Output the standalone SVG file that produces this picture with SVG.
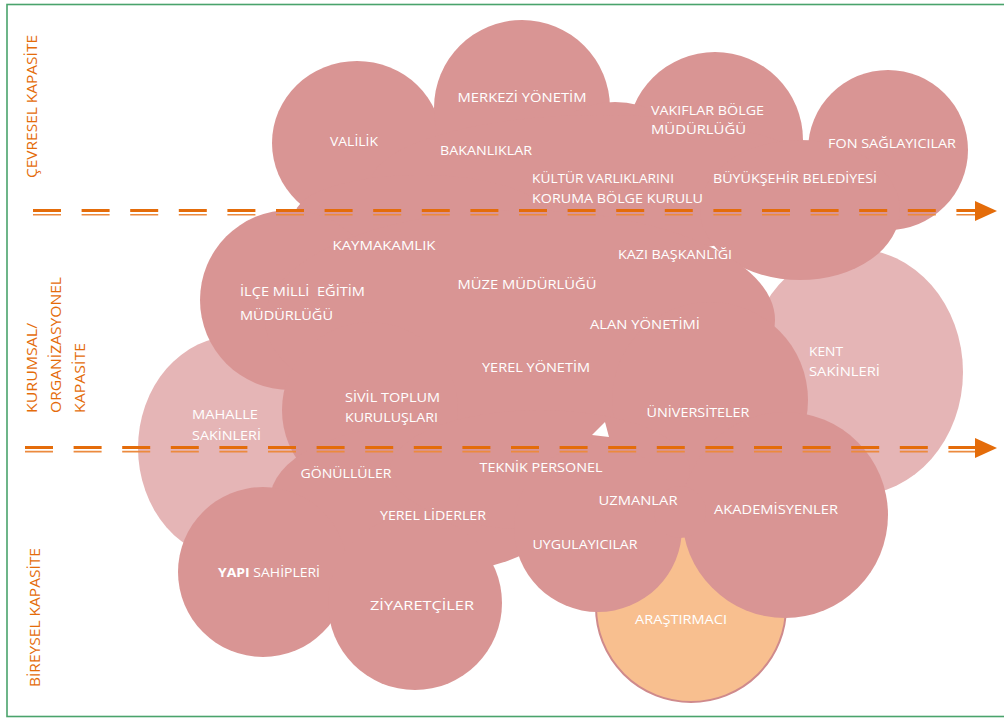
<svg xmlns="http://www.w3.org/2000/svg" width="1004" height="719" viewBox="0 0 1004 719">
<style>
.dk{fill:#d99594}
.lt{fill:#e5b5b6}
.t{font-family:"Open Sans","Noto Sans",sans-serif;font-size:13px;fill:#ffffff}
.c{text-anchor:middle}
.v{font-family:"Open Sans","Noto Sans",sans-serif;font-size:14.5px;fill:#e46c0a}
.thick{stroke:#e46c0a;stroke-width:3.2;stroke-dasharray:28 20.6;fill:none}
.thin{stroke:#ec8a3e;stroke-width:1.6;stroke-dasharray:28 20.6;fill:none}
</style>
<rect x="7" y="4.5" width="1000" height="712" fill="#ffffff" stroke="#4aa36c" stroke-width="1.6"/>
<g id="light-shapes">
<ellipse id="mahalle-bg" class="lt" cx="235" cy="448" rx="97" ry="112"/>
<ellipse id="kent-bg" class="lt" cx="855" cy="372" rx="108" ry="123"/>
<circle id="arastirmaci-bg" cx="691" cy="607" r="95" fill="#f8bf8f" stroke="#cf8a8c" stroke-width="2"/>
</g>
<g id="cloud">
<ellipse class="dk" cx="357" cy="143" rx="85" ry="82"/>
<circle class="dk" cx="522" cy="108" r="88"/>
<circle class="dk" cx="715" cy="140" r="88"/>
<ellipse class="dk" cx="615" cy="140" rx="60" ry="38"/>
<circle class="dk" cx="888" cy="150" r="80"/>
<ellipse class="dk" cx="600" cy="185" rx="230" ry="70"/>
<ellipse class="dk" cx="420" cy="215" rx="125" ry="40"/>
<ellipse class="dk" cx="800" cy="210" rx="100" ry="70"/>
<circle class="dk" cx="290" cy="300" r="90"/>
<ellipse class="dk" cx="520" cy="320" rx="255" ry="110"/>
<circle class="dk" cx="710" cy="400" r="98"/>
<circle class="dk" cx="370" cy="410" r="88"/>
<ellipse class="dk" cx="420" cy="500" rx="150" ry="75"/>
<ellipse class="dk" cx="540" cy="470" rx="150" ry="60"/>
<circle class="dk" cx="263" cy="572" r="85"/>
<circle class="dk" cx="415" cy="603" r="87"/>
<circle class="dk" cx="598" cy="528" r="84"/>
<circle class="dk" cx="785" cy="515" r="103"/>
<circle class="dk" cx="680" cy="512" r="26"/>
<polygon points="592,435 605,422 609,437" fill="#ffffff"/>
</g>
<g id="connectors">
<line class="thick" x1="33" y1="210.5" x2="975" y2="210.5"/>
<line class="thin" x1="33" y1="214.8" x2="975" y2="214.8"/>
<polygon points="975,201 997,211 975,221" fill="#e46c0a"/>
<line class="thick" x1="25" y1="447.5" x2="975" y2="447.5"/>
<line class="thin" x1="25" y1="451.6" x2="975" y2="451.6"/>
<polygon points="975,438 997,448 975,458" fill="#e46c0a"/>
</g>
<g id="axis-labels">
<text class="v" transform="translate(37,178) rotate(-90)" textLength="143" lengthAdjust="spacingAndGlyphs">ÇEVRESEL KAPASİTE</text>
<text class="v" transform="translate(37,413) rotate(-90)" textLength="90" lengthAdjust="spacingAndGlyphs">KURUMSAL/</text>
<text class="v" transform="translate(61,413) rotate(-90)" textLength="136" lengthAdjust="spacingAndGlyphs">ORGANİZASYONEL</text>
<text class="v" transform="translate(85,413) rotate(-90)" textLength="70" lengthAdjust="spacingAndGlyphs">KAPASİTE</text>
<text class="v" transform="translate(40,687) rotate(-90)" textLength="139" lengthAdjust="spacingAndGlyphs">BİREYSEL KAPASİTE</text>
</g>
<g id="n-valilik"><text class="t c" x="354" y="146" textLength="48" lengthAdjust="spacingAndGlyphs">VALİLİK</text></g>
<g id="n-merkezi"><text class="t c" x="522" y="102" textLength="129" lengthAdjust="spacingAndGlyphs">MERKEZİ YÖNETİM</text></g>
<g id="n-bakanliklar"><text class="t c" x="486" y="155" textLength="92" lengthAdjust="spacingAndGlyphs">BAKANLIKLAR</text></g>
<g id="n-vakiflar"><text class="t" x="651" y="115" textLength="113" lengthAdjust="spacingAndGlyphs">VAKIFLAR BÖLGE</text><text class="t" x="651" y="134" textLength="95" lengthAdjust="spacingAndGlyphs">MÜDÜRLÜĞÜ</text></g>
<g id="n-fon"><text class="t c" x="892" y="148" textLength="128" lengthAdjust="spacingAndGlyphs">FON SAĞLAYICILAR</text></g>
<g id="n-kultur"><text class="t" x="532" y="183" textLength="142" lengthAdjust="spacingAndGlyphs">KÜLTÜR VARLIKLARINI</text><text class="t" x="532" y="203" textLength="171" lengthAdjust="spacingAndGlyphs">KORUMA BÖLGE KURULU</text></g>
<g id="n-buyuksehir"><text class="t c" x="795" y="183" textLength="164" lengthAdjust="spacingAndGlyphs">BÜYÜKŞEHİR BELEDİYESİ</text></g>
<g id="n-kaymakamlik"><text class="t c" x="384" y="250" textLength="103" lengthAdjust="spacingAndGlyphs">KAYMAKAMLIK</text></g>
<g id="n-kazi"><text class="t c" x="675" y="259" textLength="114" lengthAdjust="spacingAndGlyphs">KAZI BAŞKANLIĞI</text></g>
<g id="n-ilce"><text class="t" x="240" y="296" textLength="125" lengthAdjust="spacingAndGlyphs" xml:space="preserve">İLÇE MİLLİ  EĞİTİM</text><text class="t" x="240" y="320" textLength="93" lengthAdjust="spacingAndGlyphs">MÜDÜRLÜĞÜ</text></g>
<g id="n-muze"><text class="t c" x="527" y="289" textLength="139" lengthAdjust="spacingAndGlyphs">MÜZE MÜDÜRLÜĞÜ</text></g>
<g id="n-alan"><text class="t c" x="645" y="329" textLength="110" lengthAdjust="spacingAndGlyphs">ALAN YÖNETİMİ</text></g>
<g id="n-yerel-yonetim"><text class="t c" x="536" y="372" textLength="108" lengthAdjust="spacingAndGlyphs">YEREL YÖNETİM</text></g>
<g id="n-kent"><text class="t" x="809" y="356" textLength="34" lengthAdjust="spacingAndGlyphs">KENT</text><text class="t" x="809" y="376" textLength="71" lengthAdjust="spacingAndGlyphs">SAKİNLERİ</text></g>
<g id="n-sivil"><text class="t" x="345" y="402" textLength="95" lengthAdjust="spacingAndGlyphs">SİVİL TOPLUM</text><text class="t" x="345" y="422" textLength="93" lengthAdjust="spacingAndGlyphs">KURULUŞLARI</text></g>
<g id="n-universiteler"><text class="t c" x="698" y="417" textLength="103" lengthAdjust="spacingAndGlyphs">ÜNİVERSİTELER</text></g>
<g id="n-mahalle"><text class="t" x="192" y="419" textLength="66" lengthAdjust="spacingAndGlyphs">MAHALLE</text><text class="t" x="192" y="440" textLength="69" lengthAdjust="spacingAndGlyphs">SAKİNLERİ</text></g>
<g id="n-gonulluler"><text class="t c" x="346" y="478" textLength="91" lengthAdjust="spacingAndGlyphs">GÖNÜLLÜLER</text></g>
<g id="n-teknik"><text class="t c" x="541" y="472" textLength="123" lengthAdjust="spacingAndGlyphs">TEKNİK PERSONEL</text></g>
<g id="n-uzmanlar"><text class="t c" x="638" y="505" textLength="79" lengthAdjust="spacingAndGlyphs">UZMANLAR</text></g>
<g id="n-akademisyenler"><text class="t c" x="776" y="514" textLength="124" lengthAdjust="spacingAndGlyphs">AKADEMİSYENLER</text></g>
<g id="n-yerel-liderler"><text class="t c" x="433" y="520" textLength="106" lengthAdjust="spacingAndGlyphs">YEREL LİDERLER</text></g>
<g id="n-uygulayicilar"><text class="t c" x="585" y="549" textLength="105" lengthAdjust="spacingAndGlyphs">UYGULAYICILAR</text></g>
<g id="n-yapi"><text class="t" x="218" y="577" textLength="102" lengthAdjust="spacingAndGlyphs"><tspan font-weight="bold">YAPI</tspan> SAHİPLERİ</text></g>
<g id="n-ziyaretciler"><text class="t c" x="422" y="610" textLength="104" lengthAdjust="spacingAndGlyphs">ZİYARETÇİLER</text></g>
<g id="n-arastirmaci"><text class="t c" x="681" y="624" textLength="92" lengthAdjust="spacingAndGlyphs">ARAŞTIRMACI</text></g>
</svg>
